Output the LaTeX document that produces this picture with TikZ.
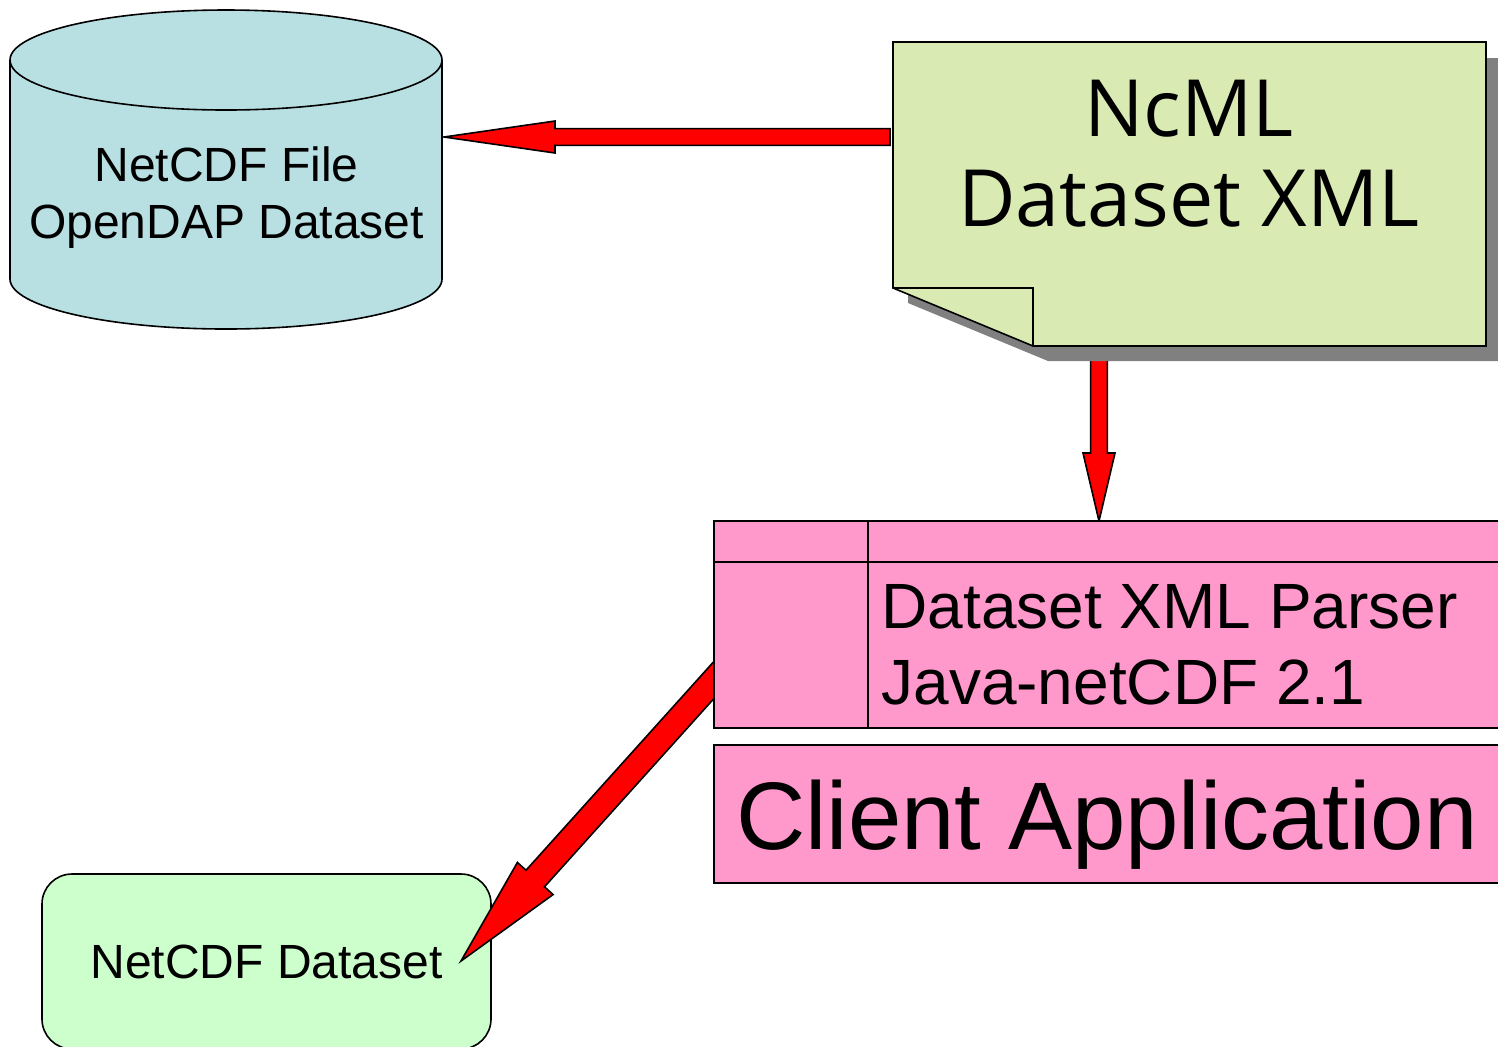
\documentclass[tikz,border=0pt]{standalone}
\usepackage{fontspec}
\setmainfont{Liberation Sans}
\newfontfamily\notefont{Open Sans}
\usetikzlibrary{calc,backgrounds}
\definecolor{cylblue}{HTML}{B8DFE2}
\definecolor{notegreen}{HTML}{D9EAB3}
\definecolor{boxpink}{HTML}{FF99CC}
\definecolor{boxgreen}{HTML}{CCFFCC}
\tikzset{
  pinkbox/.style={draw,rectangle,fill=boxpink,inner sep=0pt,outer sep=0pt,minimum width=393pt,anchor=north west},
  fatarrow/.style n args={3}{draw=black,fill=red,line width=0.8pt,line join=miter,to path={
    ($(\tikztostart)!#1!90:(\tikztotarget)$)
    -- ($(\tikztotarget)!#3!(\tikztostart)!#1!-90:(\tikztostart)$)
    -- ($(\tikztotarget)!#3!(\tikztostart)!#2!-90:(\tikztostart)$)
    -- (\tikztotarget)
    -- ($(\tikztotarget)!#3!(\tikztostart)!#2!90:(\tikztostart)$)
    -- ($(\tikztotarget)!#3!(\tikztostart)!#1!90:(\tikztostart)$)
    -- ($(\tikztostart)!#1!-90:(\tikztotarget)$) -- cycle}}
}
\begin{document}
\begin{tikzpicture}[x=0.5pt,y=-0.5pt,line width=0.8pt]
  \path[use as bounding box] (0,0) rectangle (1498,1046);
  \clip (0,0) rectangle (1498,1046);
  % Nodes
  \draw[fill=cylblue] (10,60) arc[start angle=180,end angle=360,x radius=216,y radius=50]
    -- (442,279) arc[start angle=0,end angle=180,x radius=216,y radius=50] -- cycle;
  \draw (442,60) arc[start angle=0,end angle=180,x radius=216,y radius=50];
  \node[font=\fontsize{24}{28.5}\selectfont,align=center] (store) at (226.5,198) {NetCDF File\\OpenDAP Dataset};

  \fill[black!50] (908,58) -- (1510,58) -- (1510,361) -- (1048,361) -- (908,303) -- cycle;
  \draw[fill=notegreen] (893,42) -- (1486,42) -- (1486,346) -- (1033,346) -- (893,288) -- cycle;
  \draw (893,288) -- (1033,288) -- (1033,346);
  \node[font=\fontsize{39.5}{45}\selectfont\notefont,align=center] (note) at (1189,154) {NcML\\Dataset XML};

  \node[pinkbox,minimum height=103.5pt] (parser) at (714,521) {};
  \draw (714,562) -- (1500,562);
  \draw (868,521) -- (868,728);
  \node[font=\fontsize{32}{38}\selectfont,align=left,anchor=west] (parsertext) at (874,645) {Dataset XML Parser\\Java-netCDF 2.1};
  \node[pinkbox,minimum height=69pt,text depth=0pt,font=\fontsize{48}{50}\selectfont] (client) at (714,745) {\raisebox{-1pt}{Client Application}};

  % Arrows
  \coordinate (storetip) at (444,137);
  \coordinate (notewest) at (890,137);
  \coordinate (notefoot) at (1099,340);
  \coordinate (parsertop) at (1099,521);
  \coordinate (parserwest) at (740,651);
  \coordinate (datasettip) at (461,961);
  \begin{pgfonlayer}{background}
    \node[draw,line width=0.8pt,rectangle,rounded corners=15pt,fill=boxgreen,minimum width=224.5pt,minimum height=87.5pt,
          inner sep=0pt,outer sep=0pt,font=\fontsize{24}{28}\selectfont] (dataset) at (266.5,961.5) {NetCDF Dataset};
    \path[fatarrow={4.2pt}{8pt}{55.5pt}] (notewest) to (storetip);
    \path[fatarrow={4.2pt}{8pt}{34pt}] (notefoot) to (parsertop);
    \path[fatarrow={6.2pt}{12pt}{55.5pt}] (parserwest) to (datasettip);
  \end{pgfonlayer}
\end{tikzpicture}
\end{document}
